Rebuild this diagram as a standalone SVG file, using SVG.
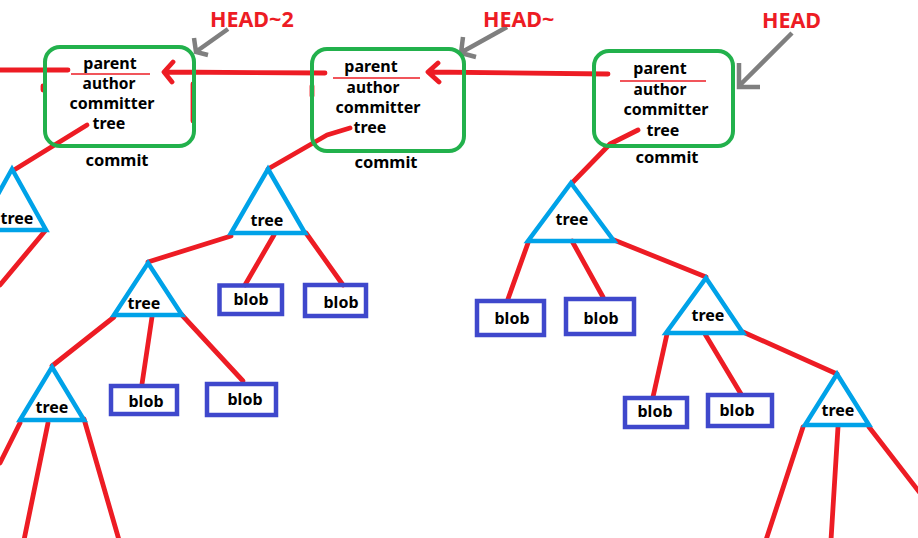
<svg xmlns="http://www.w3.org/2000/svg" width="918" height="538" viewBox="0 0 918 538">
<style>
.bg{fill:#fff}
.commit{fill:none;stroke:#22B14C;stroke-width:4}
.tri{fill:none;stroke:#00A2E8;stroke-width:4.5;stroke-linejoin:miter}
.blob{fill:none;stroke:#3F48CC;stroke-width:4.5}
.red{fill:none;stroke:#ED1C24;stroke-width:4.8;stroke-linecap:round;stroke-linejoin:round}
.thin{fill:none;stroke:#ED1C24;stroke-width:1.3}
.gray{fill:none;stroke:#7F7F7F;stroke-width:4.5;stroke-linejoin:miter}
text{font-family:"Noto Sans","DejaVu Sans",sans-serif;font-weight:bold;fill:#000;text-anchor:middle}
.t{font-size:16px}
.s{font-size:15.5px}
.ct{font-size:16.5px}
.head{font-size:21.5px;fill:#ED1C24;text-anchor:start}
</style>
<rect class="bg" width="918" height="538"/>

<g id="connectors">
  <path class="red" d="M0 70 L68 70"/>
  <path class="red" d="M325 73 L165 72 M173 62 L164 72 L172 82"/>
  <path class="red" d="M608 74 L429 72 M438 63 L428 72 L439 82"/>
  <path class="red" d="M193 84 L193 121"/>
  <path class="red" d="M43 86 L43 90"/>
  <path class="red" d="M312 86 L312 96"/>
  <path class="red" d="M87 125 L14 170"/>
  <path class="red" d="M350 128 L327 135 L268 169"/>
  <path class="red" d="M638 130 L610 144 L572 183"/>
  <path class="red" d="M45 231 L0 285"/>
  <path class="red" d="M231 236 L148 262"/>
  <path class="red" d="M274 235 L245 285"/>
  <path class="red" d="M306 233 L343 285"/>
  <path class="red" d="M114 317 L52 366"/>
  <path class="red" d="M152 317 L142 384"/>
  <path class="red" d="M181 314 L243 381"/>
  <path class="red" d="M20 423 L0 463"/>
  <path class="red" d="M48 423 L24 540"/>
  <path class="red" d="M84 419 L119 540"/>
  <path class="red" d="M528 243 L508 299"/>
  <path class="red" d="M572 241 L603 297"/>
  <path class="red" d="M614 240 L706 277"/>
  <path class="red" d="M667 334 L653 397"/>
  <path class="red" d="M705 334 L741 394"/>
  <path class="red" d="M743 332 L837 374"/>
  <path class="red" d="M803 427 L766 540"/>
  <path class="red" d="M838 427 L831 540"/>
  <path class="red" d="M869 427 L920 493"/>
  <path class="gray" d="M228 29 L197 51 M194 38 L196 52 L208 55"/>
  <path class="gray" d="M507 27 L462 52 M463 37 L461 53 L476 57"/>
  <path class="gray" d="M792 33 L740 85 M739 63 L739 87 L760 87"/>
</g>

<g id="commit1">
  <rect class="commit" x="45" y="47" width="149" height="99" rx="15"/>
  <path class="thin" d="M71 74 L150 74"/>
  <text class="t" x="110" y="69">parent</text>
  <text class="s" x="109" y="89">author</text>
  <text class="t" x="112" y="109">committer</text>
  <text class="t" x="109" y="129">tree</text>
  <text class="ct" x="117" y="166">commit</text>
</g>
<g id="commit2">
  <rect class="commit" x="312" y="49" width="152" height="102" rx="15"/>
  <path class="thin" d="M333 78 L420 78"/>
  <text class="t" x="371" y="72">parent</text>
  <text class="s" x="373" y="93">author</text>
  <text class="t" x="378" y="113">committer</text>
  <text class="t" x="370" y="133">tree</text>
  <text class="ct" x="386" y="168">commit</text>
</g>
<g id="commit3">
  <rect class="commit" x="594" y="51" width="139" height="95" rx="15"/>
  <path class="thin" d="M620 81 L706 81"/>
  <text class="t" x="660" y="74">parent</text>
  <text class="s" x="660" y="95">author</text>
  <text class="t" x="666" y="115">committer</text>
  <text class="t" x="663" y="135.5">tree</text>
  <text class="ct" x="667" y="163">commit</text>
</g>

<g id="head2"><text class="head" x="210" y="27">HEAD~2</text></g>
<g id="head1"><text class="head" x="483" y="27">HEAD~</text></g>
<g id="head0"><text class="head" x="762" y="28">HEAD</text></g>

<g id="treeA">
  <path class="tri" d="M12 169 L46 230 L-22 230 Z"/>
  <text class="t" x="17" y="224">tree</text>
</g>
<g id="treeB">
  <path class="tri" d="M268 169 L305 233 L231 233 Z"/>
  <text class="t" x="267" y="226">tree</text>
</g>
<g id="treeC">
  <path class="tri" d="M148 263 L182 315 L114 315 Z"/>
  <text class="t" x="144" y="309">tree</text>
</g>
<g id="treeD">
  <path class="tri" d="M52 367 L84 420 L20 420 Z"/>
  <text class="t" x="52" y="413">tree</text>
</g>
<g id="treeE">
  <path class="tri" d="M571 183 L614 241 L528 241 Z"/>
  <text class="t" x="572" y="225">tree</text>
</g>
<g id="treeF">
  <path class="tri" d="M706 278 L743 333 L666 333 Z"/>
  <text class="t" x="708" y="321">tree</text>
</g>
<g id="treeG">
  <path class="tri" d="M837 374 L869 425 L805 425 Z"/>
  <text class="t" x="838" y="416">tree</text>
</g>

<g id="blobB1">
  <rect class="blob" x="219.5" y="285.5" width="62.5" height="28.5"/>
  <text class="t" x="251" y="305">blob</text>
</g>
<g id="blobB2">
  <rect class="blob" x="305" y="285" width="61" height="31"/>
  <text class="t" x="341" y="308">blob</text>
</g>
<g id="blobC1">
  <rect class="blob" x="111" y="386" width="66" height="28"/>
  <text class="t" x="146" y="407">blob</text>
</g>
<g id="blobC2">
  <rect class="blob" x="207" y="384" width="69" height="31"/>
  <text class="t" x="245" y="405">blob</text>
</g>
<g id="blobR1">
  <rect class="blob" x="477" y="301" width="67" height="34"/>
  <text class="t" x="512" y="324">blob</text>
</g>
<g id="blobR2">
  <rect class="blob" x="566" y="299" width="68" height="35"/>
  <text class="t" x="601" y="324">blob</text>
</g>
<g id="blobR3">
  <rect class="blob" x="625" y="398" width="62" height="29"/>
  <text class="t" x="655" y="417">blob</text>
</g>
<g id="blobR4">
  <rect class="blob" x="708" y="395" width="64" height="31"/>
  <text class="t" x="737" y="416">blob</text>
</g>
</svg>
